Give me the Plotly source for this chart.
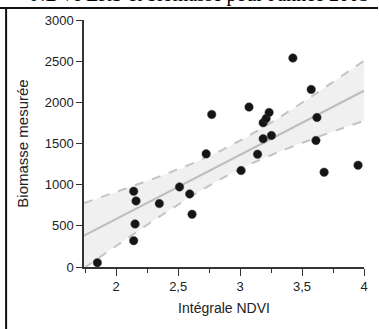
import numpy as np
import plotly.graph_objects as go

# Data
ndvi = [1.848, 2.141, 2.160, 2.152, 2.141, 2.348, 2.511, 2.593, 2.612, 2.726,
        2.771, 3.008, 3.072, 3.141, 3.186, 3.186, 3.210, 3.234, 3.253, 3.426,
        3.574, 3.620, 3.612, 3.678, 3.952]
biomasse = [53, 920, 803, 523, 320, 770, 973, 888, 640, 1374,
            1853, 1172, 1942, 1370, 1557, 1751, 1804, 1877, 1597, 2538,
            2157, 1816, 1537, 1151, 1236]
x_ticks = [2, 2.5, 3, 3.5, 4]
y_ticks = [0, 500, 1000, 1500, 2000, 2500, 3000]
x_range = [1.74, 4.0]
y_range = [0, 3000]
t_crit = 2.069  # Student t, 95 %, df = 23

x = np.array(ndvi)
y = np.array(biomasse)
n = len(x)
slope, intercept = np.polyfit(x, y, 1)
resid = y - (slope * x + intercept)
s = np.sqrt(np.sum(resid ** 2) / (n - 2))
sxx = np.sum((x - x.mean()) ** 2)
xg = np.linspace(x_range[0], x_range[1], 120)
yg = slope * xg + intercept
half = t_crit * s * np.sqrt(1 / n + (xg - x.mean()) ** 2 / sxx)
upper = yg + half
lower = yg - half

fig = go.Figure()
fig.add_trace(go.Scatter(x=np.concatenate([xg, xg[::-1]]),
                         y=np.concatenate([upper, lower[::-1]]),
                         fill="toself", fillcolor="#f0f0f0", mode="none",
                         hoverinfo="skip", showlegend=False))
fig.add_trace(go.Scatter(x=xg, y=upper, mode="lines",
                         line=dict(color="#c4c4c4", width=2, dash="dash"),
                         showlegend=False))
fig.add_trace(go.Scatter(x=xg, y=lower, mode="lines",
                         line=dict(color="#c4c4c4", width=2, dash="dash"),
                         showlegend=False))
fig.add_trace(go.Scatter(x=xg, y=yg, mode="lines",
                         line=dict(color="#bdbdbd", width=2),
                         showlegend=False))
fig.add_trace(go.Scatter(x=ndvi, y=biomasse, mode="markers",
                         marker=dict(color="#151515", size=8.5,
                                     line=dict(color="#3a3a3a", width=0.5)),
                         showlegend=False))

fig.add_annotation(text="NDVI ERS et biomasse pour l'année 2005",
                   xref="paper", yref="paper", x=1.0246, y=1.104,
                   xanchor="right", yanchor="middle", showarrow=False,
                   font=dict(family="Liberation Serif", size=20, color="#000"))
fig.add_shape(type="line", xref="paper", yref="paper",
              x0=-0.3, x1=1.05, y0=1.0486, y1=1.0486,
              line=dict(color="#111", width=2))
fig.add_shape(type="line", xref="paper", yref="paper",
              x0=-0.2782, x1=-0.2782, y0=1.0486, y1=-0.3,
              line=dict(color="#111", width=2))

axis_font = dict(family="Liberation Sans, Arial", size=13, color="#222")
fig.update_layout(
    width=379, height=329,
    margin=dict(l=84, r=11, t=20, b=62),
    paper_bgcolor="white", plot_bgcolor="white",
    separators=",.",
    font=axis_font,
    xaxis=dict(range=x_range, tickvals=x_ticks, ticks="outside", ticklen=7,
               tickcolor="#333", showline=True, linecolor="#333", linewidth=1.5,
               showgrid=False, zeroline=False, tickfont=axis_font,
               minor=dict(dtick=0.25, tick0=1.75, ticks="outside", ticklen=4,
                          tickcolor="#333", showgrid=False),
               title=dict(text="Intégrale NDVI", standoff=10,
                          font=dict(family="Liberation Sans, Arial", size=14, color="#222"))),
    yaxis=dict(range=y_range, tickvals=y_ticks, ticks="outside", ticklen=6,
               tickcolor="#333", showline=True, linecolor="#333", linewidth=1.5,
               showgrid=False, zeroline=False, tickfont=axis_font,
               title=dict(text="Biomasse mesurée", standoff=12,
                          font=dict(family="Liberation Sans, Arial", size=15, color="#222"))),
)
fig.write_html("out.html", config={"displayModeBar": False},
               post_script="document.body.style.margin='0px';document.body.style.overflow='hidden';")
